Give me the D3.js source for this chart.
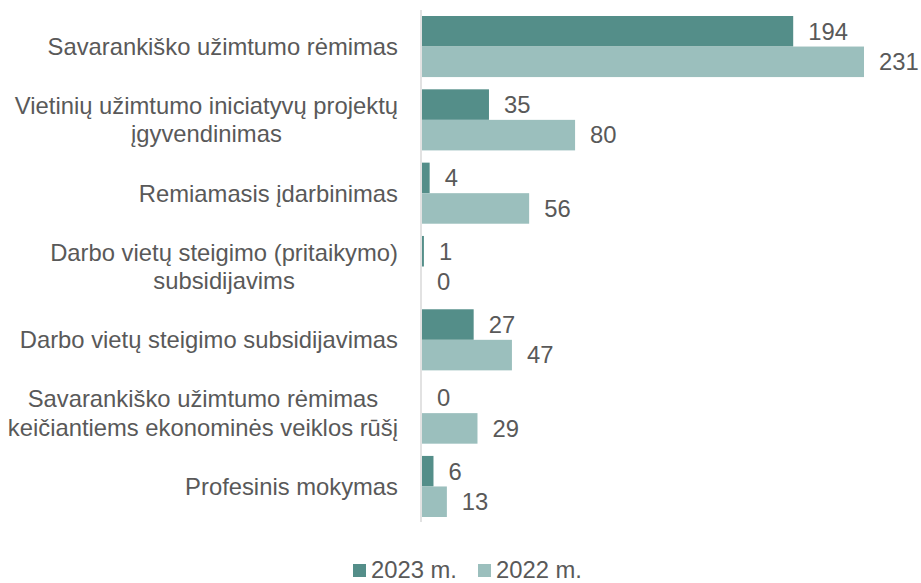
<!DOCTYPE html>
<html>
<head>
<meta charset="utf-8">
<script src="https://cdn.jsdelivr.net/npm/d3@7"></script>
<style>
  body { margin: 0; background: #fff; }
  text { font-family: Arial, "Liberation Sans", sans-serif; fill: #595959; }
</style>
</head>
<body>
<script>
// duomenys
const categories = [
  ["Savarankiško užimtumo rėmimas"],
  ["Vietinių užimtumo iniciatyvų projektų", "įgyvendinimas"],
  ["Remiamasis įdarbinimas"],
  ["Darbo vietų steigimo (pritaikymo)", "subsidijavims"],
  ["Darbo vietų steigimo subsidijavimas"],
  ["Savarankiško užimtumo rėmimas", "keičiantiems ekonominės veiklos rūšį"],
  ["Profesinis mokymas"]
];
const values2023 = [194, 35, 4, 1, 27, 0, 6];
const values2022 = [231, 80, 56, 0, 47, 29, 13];
const seriesNames = ["2023 m.", "2022 m."];
const colors = ["#548e89", "#9bbfbd"];

const width = 921, height = 583;
const fs = 23.8;
const svg = d3.select("body").append("svg")
  .attr("width", width).attr("height", height);

const x = d3.scaleLinear().domain([0, 231]).range([422, 864]);
const y = d3.scaleBand().domain(d3.range(categories.length))
  .range([16, 517]).paddingInner(0.167).paddingOuter(0);
const sub = d3.scaleBand().domain([0, 1]).range([0, y.bandwidth()]);

const rows = categories.map((c, i) => ({ i, label: c, vals: [values2023[i], values2022[i]] }));

const g = svg.append("g");
rows.forEach(r => {
  r.vals.forEach((v, s) => {
    g.append("rect")
      .attr("x", x(0))
      .attr("y", y(r.i) + sub(s))
      .attr("width", x(v) - x(0))
      .attr("height", sub.bandwidth())
      .attr("fill", colors[s]);
    g.append("text")
      .attr("x", x(v) + 15)
      .attr("y", y(r.i) + sub(s) + sub.bandwidth() / 2)
      .attr("dy", "0.35em")
      .attr("font-size", fs)
      .text(v);
  });
  // kategorijos pavadinimas: blokas lygiuotas dešinėje, eilutės centruotos
  const t = g.append("text")
    .attr("text-anchor", "middle")
    .attr("font-size", fs)
    .attr("y", y(r.i) + y.bandwidth() / 2);
  const n = r.label.length;
  const spans = r.label.map((line, k) =>
    t.append("tspan")
      .attr("dy", k === 0 ? ((0.35 - (n - 1) * 0.6) + "em") : "1.2em")
      .text(line));
  const bw = d3.max(spans, sp => sp.node().getComputedTextLength());
  spans.forEach(sp => sp.attr("x", 398 - bw / 2));
});

// ašis
svg.append("line")
  .attr("x1", 421).attr("x2", 421)
  .attr("y1", 10).attr("y2", 522)
  .attr("stroke", "#d9d9d9").attr("stroke-width", 1.5);

// legenda
const legX = [353, 478];
seriesNames.forEach((name, s) => {
  svg.append("rect")
    .attr("x", legX[s]).attr("y", 564)
    .attr("width", 13).attr("height", 13)
    .attr("fill", colors[s]);
  svg.append("text")
    .attr("x", legX[s] + 18).attr("y", 569.5)
    .attr("dy", "0.35em")
    .attr("font-size", fs)
    .text(name);
});
</script>
</body>
</html>
